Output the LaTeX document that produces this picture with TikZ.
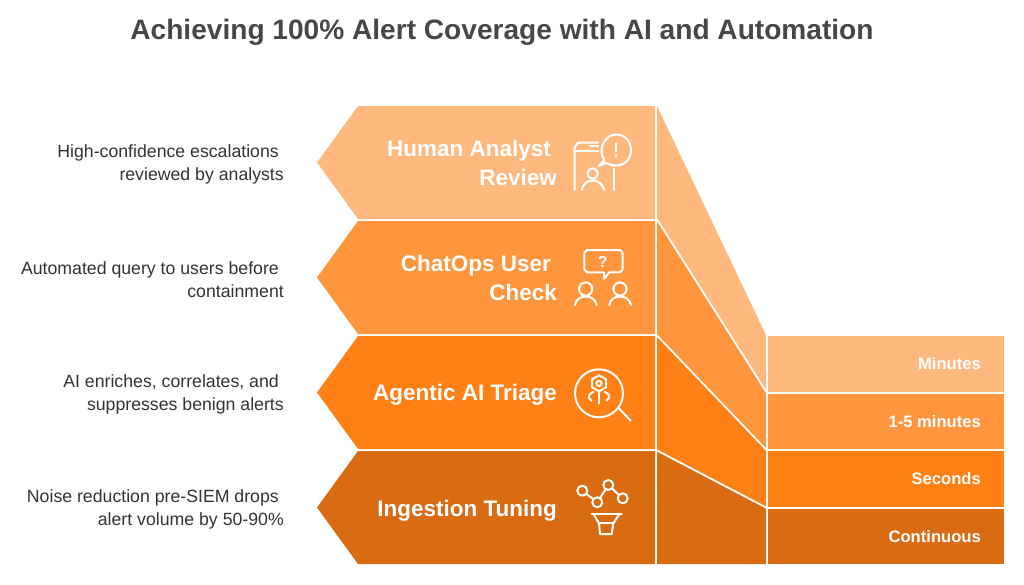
\documentclass[tikz,border=0pt]{standalone}
\usepackage{fontspec}
\setmainfont{Liberation Sans}
\definecolor{cA}{HTML}{FFB97F}
\definecolor{cB}{HTML}{FF953D}
\definecolor{cC}{HTML}{FF8015}
\definecolor{cD}{HTML}{D96B12}
\definecolor{ink}{HTML}{474747}
\definecolor{txt}{HTML}{333333}
\tikzset{
 title/.style={font=\fontsize{28.1}{34}\selectfont\bfseries,text=ink,inner sep=0pt},
 side/.style={font=\fontsize{17.7}{22.5}\selectfont,text=txt,align=right,anchor=east,inner sep=0pt},
 head/.style={font=\fontsize{22.5}{28.5}\selectfont\bfseries,text=white,align=right,anchor=east,inner sep=0pt},
 dur/.style={font=\fontsize{16.6}{20}\selectfont\bfseries,text=white,anchor=east,inner sep=0pt},
 icon/.style={draw=white,line width=2pt,line cap=round,line join=round,fill=none},
}
\begin{document}
\begin{tikzpicture}[x=1pt,y=-1pt]
\useasboundingbox (0,0) rectangle (1024,584);
% arrows
\fill[cA] (358,106)--(655,106)--(655,219)--(358,219)--(317,162.5)--cycle;
\fill[cB] (358,221)--(655,221)--(655,334)--(358,334)--(317,277.5)--cycle;
\fill[cC] (358,336)--(655,336)--(655,449)--(358,449)--(317,392.5)--cycle;
\fill[cD] (358,451)--(655,451)--(655,564)--(358,564)--(317,507.5)--cycle;
% slanted bands
\fill[cA] (657,106)--(766,335)--(766,389.6)--(657,217.6)--cycle;
\fill[cB] (657,221.4)--(766,393.4)--(766,448)--(657,334)--cycle;
\fill[cC] (657,337)--(766,451)--(766,506.3)--(657,449.3)--cycle;
\fill[cD] (657,451.7)--(766,508.7)--(766,564)--(657,564)--cycle;
% duration boxes
\fill[cA] (768,336) rectangle (1004,391.5);
\fill[cB] (768,393.5) rectangle (1004,449);
\fill[cC] (768,451) rectangle (1004,506.5);
\fill[cD] (768,508.5) rectangle (1004,564);
% text
\node[title] (t) at (502,32.5) {Achieving 100\% Alert Coverage with AI and Automation};
\node[side] (s1) at (284,164.5) {High-confidence escalations\kern5pt\\reviewed by analysts};
\node[side] (s2) at (284,279.5) {Automated query to users before\kern5pt\\containment};
\node[side] (s3) at (284,394.5) {AI enriches, correlates, and\kern5pt\\suppresses benign alerts};
\node[side] (s4) at (284,509.5) {Noise reduction pre-SIEM drops\kern5pt\\alert volume by 50-90\%};
\node[head] (h1) at (557,163) {Human Analyst\kern6pt\\Review};
\node[head] (h2) at (557,278) {ChatOps User\kern6pt\\Check};
\node[head] (h3) at (557,395) {Agentic AI Triage};
\node[head] (h4) at (557,510.5) {Ingestion Tuning};
\node[dur] (d1) at (981,364) {Minutes};
\node[dur] (d2) at (981,421.5) {1-5 minutes};
\node[dur] (d3) at (981,479) {Seconds};
\node[dur] (d4) at (981,536.5) {Continuous};
% icon 1
\draw[icon] (574.5,190)--(574.5,147) to[out=-90,in=180] (579,142.5)--(598,142.5);
\draw[icon] (574.5,150.5)--(598,150.5);
\draw[icon] (590,145.5)--(598,145.5);
\draw[icon] (613.5,168.5)--(613.5,190);
\draw[icon] (604.5,160.5) .. controls (596,147) and (607,134.5) .. (616,134.5)
  .. controls (636,134.5) and (636,165.5) .. (616,165.5)
  .. controls (612,165.5) and (609,164.5) .. (606.5,163)--(598.5,166)--(604.5,160.5);
\draw[icon] (616,143)--(616,151.5);
\fill[white] (616,155.5) circle (1.4);
\draw[icon] (592.7,173.5) circle (5.2);
\draw[icon] (582,190) .. controls (583,183) and (588,180.5) .. (592.7,180.5) .. controls (597.5,180.5) and (602.5,183) .. (604,190);
% icon 2
\draw[icon] (587,250)--(620,250) to[out=0,in=-90] (622.7,252.7)--(622.7,269.6) to[out=90,in=0] (620,272.3)--(609.3,272.3)--(604,279)--(604,272.3)--(587,272.3) to[out=180,in=90] (584.3,269.6)--(584.3,252.7) to[out=-90,in=180] cycle;
\node[font=\fontsize{16}{16}\selectfont\bfseries,text=white,inner sep=0pt] (q) at (602.7,261.5) {?};
\draw[icon] (585.7,289) circle (6.6);
\draw[icon] (575,305) .. controls (576,299) and (581,296.5) .. (585.7,296.5) .. controls (590.5,296.5) and (595.5,299) .. (596.7,305);
\draw[icon] (620,289) circle (6.6);
\draw[icon] (609.3,305) .. controls (610.3,299) and (615.3,296.5) .. (620,296.5) .. controls (624.8,296.5) and (629.8,299) .. (631,305);
% icon 3
\draw[icon] (599,393.3) circle (24);
\draw[icon] (618,407.5)--(630.7,420.7);
\draw[icon] (599,375.3)--(606,379.3)--(606,387.3)--(599,391.3)--(592,387.3)--(592,379.3)--cycle;
\draw[icon] (599,383.3) circle (2.6);
\draw[icon] (599,392)--(599,403.5);
\draw[icon] (593.5,392) .. controls (588.5,393) and (587,398) .. (591.5,400.7);
\draw[icon] (604.5,392) .. controls (609.5,393) and (611,398) .. (606.5,400.7);
% icon 4
\draw[icon] (582.3,490.7) circle (5);
\draw[icon] (597.3,502.3) circle (5);
\draw[icon] (608.3,485) circle (5);
\draw[icon] (622.7,498.3) circle (5);
\draw[icon] (586.5,493.9)--(593,499);
\draw[icon] (600,497.8)--(605.6,489.5);
\draw[icon] (612.2,488.6)--(618.8,494.7);
\draw[icon] (591.5,513.5)--(621.5,513.5);
\draw[icon] (593.5,514)--(599,523.3)--(600,534)--(611.7,534)--(613.3,523.3)--(619.5,514);
\draw[icon] (599,523.3)--(613.3,523.3);
\end{tikzpicture}
\end{document}
